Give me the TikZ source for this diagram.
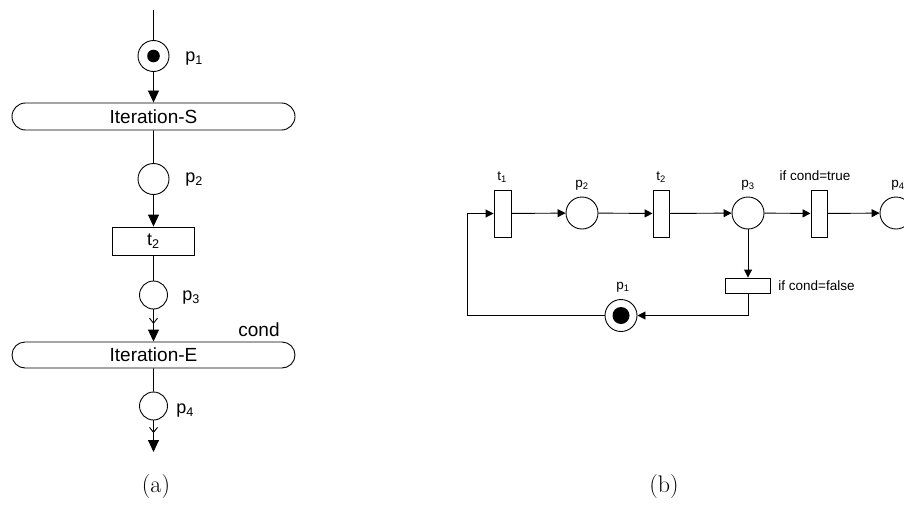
\documentclass[tikz,border=0pt]{standalone}
\usepackage{fontspec}
\usetikzlibrary{arrows.meta,shapes.misc,decorations.markings,positioning}
\newfontfamily\arial{Liberation Sans}

\begin{document}
\begin{tikzpicture}[
    x=1pt, y=-1pt,
    line width=0.9pt,
    place/.style={draw, circle, minimum size=31pt, inner sep=0pt},
    token/.style={path picture={\fill (path picture bounding box.center) circle (#1);}},
    trans/.style={draw, rectangle, inner sep=0pt},
    iter/.style={draw, rounded rectangle, minimum width=283pt, minimum height=27pt, inner sep=0pt, font=\arial\fontsize{19}{22}\selectfont},
    lbl/.style={font=\arial\fontsize{18}{22}\selectfont, inner sep=0pt},
    slbl/.style={font=\arial\fontsize{13.5}{15}\selectfont, inner sep=0pt},
    arrow/.style={-{Triangle[length=12pt,width=11pt]}},
    sarrow/.style={-{Triangle[length=8pt,width=8pt]}},
    barb/.style={postaction={decorate}, decoration={markings, mark=at position #1 with {\arrow{Straight Barb[length=5pt,width=8pt]}}}}
]
\useasboundingbox (0,0) rectangle (904,506);
\clip (0,0) rectangle (904,506);

% (a) iteration block
\coordinate (atop) at (153.5,10);
\node[place, token=6.3pt] (ap1) at (153.5,56) {};
\node[iter] (iterS) at (153.5,116.5) {Iteration-S};
\node[place] (ap2) at (153.5,179) {};
\node[trans, minimum width=82pt, minimum height=28pt, font=\arial\fontsize{18}{22}\selectfont] (at2) at (153.5,241) {t\textsubscript{2}};
\node[place, minimum size=28pt] (ap3) at (153.5,295) {};
\node[iter, minimum height=26pt] (iterE) at (153.5,355) {Iteration-E};
\node[place, minimum size=28pt] (ap4) at (153.5,406) {};
\coordinate (abot) at (153.5,452);

\node[lbl, anchor=west] (la1) at (185,59) {p\textsubscript{1}};
\node[lbl, anchor=west] (la2) at (185,180) {p\textsubscript{2}};
\node[lbl, anchor=west] (la3) at (182,298) {p\textsubscript{3}};
\node[lbl, anchor=west] (la4) at (176,411) {p\textsubscript{4}};
\node[lbl, font=\arial\fontsize{19}{22}\selectfont] (cond) at (259,330) {cond};

\draw (atop) -- (ap1);
\draw[arrow] (ap1) -- (iterS);
\draw (iterS) -- (ap2);
\draw[arrow] (ap2) -- (at2);
\draw (at2) -- (ap3);
\draw[arrow, barb=0.45] (ap3) -- (iterE);
\draw (iterE) -- (ap4);
\draw[arrow, barb=0.4] (ap4) -- (abot);

% (b) unfolded net
\node[trans, minimum width=17pt, minimum height=47pt] (bt1) at (502.5,213.5) {};
\node[place, minimum size=32pt] (bp2) at (582,213) {};
\node[trans, minimum width=16pt, minimum height=47pt] (bt2) at (661,213.5) {};
\node[place, minimum size=32pt] (bp3) at (748,213) {};
\node[trans, minimum width=16pt, minimum height=47pt] (bt3) at (819,213.5) {};
\node[place, minimum size=32pt] (bp4) at (896,213) {};
\node[trans, minimum width=45pt, minimum height=15pt] (bt4) at (748,285.5) {};
\node[place, minimum size=32pt, token=8.5pt] (bp1) at (621,315.5) {};
\coordinate (bret) at (467,315.5);

\node[slbl] (lt1) at (502,177) {t\textsubscript{1}};
\node[slbl] (lp2) at (582,185) {p\textsubscript{2}};
\node[slbl] (lt2) at (661,177) {t\textsubscript{2}};
\node[slbl] (lp3) at (748,185) {p\textsubscript{3}};
\node[slbl] (lt3) at (815,176) {if cond=true};
\node[slbl] (lp4) at (898,185) {p\textsubscript{4}};
\node[slbl, anchor=west] (lt4) at (778,285.5) {if cond=false};
\node[slbl] (lp1) at (623,287) {p\textsubscript{1}};

\draw[sarrow] (bp1) -- (bret) |- (bt1);
\draw[sarrow] (bt1) -- (bp2);
\draw[sarrow] (bp2) -- (bt2);
\draw[sarrow] (bt2) -- (bp3);
\draw[sarrow] (bp3) -- (bt3);
\draw[sarrow] (bt3) -- (bp4);
\draw[sarrow] (bp3) -- (bt4);
\draw[sarrow] (bt4) |- (bp1);

% captions
\node[font=\fontsize{24}{28}\selectfont] (capa) at (156,487) {(a)};
\node[font=\fontsize{24}{28}\selectfont] (capb) at (664,487) {(b)};
\end{tikzpicture}
\end{document}
